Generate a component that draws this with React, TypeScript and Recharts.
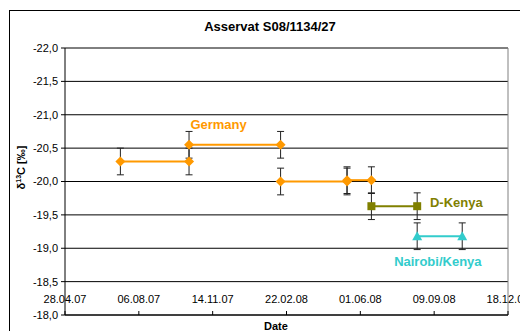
import React from 'react';
import { ScatterChart, Scatter, XAxis, YAxis, CartesianGrid, ErrorBar, ReferenceLine, ReferenceDot } from 'recharts';

// dates are dd.mm.yy, values are δ13C in ‰, errors are ± in ‰
const germanyDates = ['12.07.07', '13.10.07', '13.10.07', '14.02.08', '14.02.08', '14.05.08', '14.05.08', '16.06.08'];
const germanyValues = [-20.3, -20.3, -20.55, -20.55, -20.0, -20.0, -20.02, -20.02];
const germanyErrors = [0.2, 0.2, 0.2, 0.2, 0.2, 0.2, 0.2, 0.2];
const germanySegments = [1, 1, 2, 2, 3, 3, 4, 4];

const dKenyaDates = ['16.06.08', '17.08.08'];
const dKenyaValues = [-19.63, -19.63];
const dKenyaErrors = [0.2, 0.2];

const nairobiDates = ['17.08.08', '17.10.08'];
const nairobiValues = [-19.18, -19.18];
const nairobiErrors = [0.2, 0.2];

const xTickLabels = ['28.04.07', '06.08.07', '14.11.07', '22.02.08', '01.06.08', '09.09.08', '18.12.08'];
const yTicks = [-22, -21.5, -21, -20.5, -20, -19.5, -19, -18.5, -18];

const seriesLabels = [
  { text: 'Germany', date: '22.11.07', value: -20.85, color: '#FF9900' },
  { text: 'D-Kenya', date: '09.10.08', value: -19.68, color: '#808000' },
  { text: 'Nairobi/Kenya', date: '14.09.08', value: -18.81, color: '#33CCCC' },
];

const toDay = (s: string) => {
  const [d, m, y] = s.split('.').map(Number);
  return Date.UTC(2000 + y, m - 1, d) / 86400000;
};
const origin = toDay(xTickLabels[0]);
const dayOf = (s: string) => toDay(s) - origin;
const xTicks = xTickLabels.map(dayOf);

const build = (dates: string[], values: number[], errors: number[]) =>
  dates.map((d, i) => ({ x: dayOf(d), y: values[i], err: errors[i] }));

const germanyAll = build(germanyDates, germanyValues, germanyErrors);
const germanyParts = [1, 2, 3, 4].map(s => germanyAll.filter((_, i) => germanySegments[i] === s));
const dKenya = build(dKenyaDates, dKenyaValues, dKenyaErrors);
const nairobi = build(nairobiDates, nairobiValues, nairobiErrors);

const ORANGE = '#FF9900';
const OLIVE = '#808000';
const CYAN = '#33CCCC';

const Diamond = (p: any) => (
  <polygon points={`${p.cx},${p.cy - 5} ${p.cx + 5},${p.cy} ${p.cx},${p.cy + 5} ${p.cx - 5},${p.cy}`} fill={ORANGE} />
);
const Square = (p: any) => <rect x={p.cx - 4} y={p.cy - 4} width={8} height={8} fill={OLIVE} />;
const Triangle = (p: any) => (
  <polygon points={`${p.cx},${p.cy - 5} ${p.cx + 5},${p.cy + 4} ${p.cx - 5},${p.cy + 4}`} fill={CYAN} />
);

const YLabel = (props: any) => {
  const vb = props.viewBox || { x: 0, y: 48, width: 65, height: 267 };
  const x = 25;
  const y = vb.y + vb.height / 2 - 14;
  return (
    <text x={x} y={y} transform={`rotate(-90 ${x} ${y})`} textAnchor="middle" fontSize={11} fontWeight="bold" fill="#000">
      δ<tspan dy={-4} fontSize={7}>13</tspan><tspan dy={4}>C [‰]</tspan>
    </text>
  );
};

const fmt = (v: number) => v.toFixed(1).replace('.', ',');

export default function App() {
  return (
    <div style={{ position: 'absolute', left: 0, top: 0, width: 520, height: 331, overflow: 'hidden', background: '#fff', fontFamily: '"Liberation Sans", Arial, sans-serif' }}>
      <div style={{ position: 'absolute', left: 9, top: 10, width: 560, height: 360, border: '1px solid #000' }} />
      <div style={{ position: 'absolute', left: 0, top: 19, width: 540, textAlign: 'center', fontSize: 13, fontWeight: 'bold' }}>
        Asservat S08/1134/27
      </div>
      <div style={{ position: 'absolute', left: 264, top: 320, fontSize: 11, fontWeight: 'bold' }}>Date</div>
      <div style={{ position: 'absolute', left: 0, top: 0 }}>
        <ScatterChart width={520} height={331} margin={{ top: 48, right: 12, left: 0, bottom: 16 }}>
          <CartesianGrid horizontal vertical={false} stroke="#000" />
          <XAxis
            type="number"
            dataKey="x"
            domain={[0, xTicks[xTicks.length - 1]]}
            ticks={xTicks}
            tickFormatter={(v: number) => xTickLabels[xTicks.indexOf(v)] ?? ''}
            mirror
            height={16}
            tickSize={4}
            tickMargin={8}
            stroke="#000"
            tick={{ fill: '#000', fontSize: 11 }}
            interval={0}
          />
          <YAxis
            type="number"
            dataKey="y"
            reversed
            domain={[-22, -18]}
            ticks={yTicks}
            tickFormatter={fmt}
            width={65}
            tickSize={4}
            tickMargin={3}
            stroke="#000"
            tick={{ fill: '#000', fontSize: 11 }}
            interval={0}
            label={{ content: (p: any) => <YLabel {...p} /> }}
          />
          <ReferenceLine y={-22} stroke="#808080" />
          <ReferenceLine x={xTicks[xTicks.length - 1]} stroke="#808080" />
          {germanyParts.map((part, i) => (
            <Scatter key={`g${i}`} data={part} line={{ stroke: ORANGE, strokeWidth: 2 }} shape={Diamond} isAnimationActive={false}>
              <ErrorBar dataKey="err" direction="y" width={3.5} stroke="#222" strokeWidth={1} />
            </Scatter>
          ))}
          <Scatter data={dKenya} line={{ stroke: OLIVE, strokeWidth: 2 }} shape={Square} isAnimationActive={false}>
            <ErrorBar dataKey="err" direction="y" width={3.5} stroke="#222" strokeWidth={1} />
          </Scatter>
          <Scatter data={nairobi} line={{ stroke: CYAN, strokeWidth: 2 }} shape={Triangle} isAnimationActive={false}>
            <ErrorBar dataKey="err" direction="y" width={3.5} stroke="#222" strokeWidth={1} />
          </Scatter>
          {seriesLabels.map(l => (
            <ReferenceDot
              key={l.text}
              x={dayOf(l.date)}
              y={l.value}
              r={0}
              fill="none"
              stroke="none"
              label={{ value: l.text, position: 'center', fill: l.color, fontSize: 13, fontWeight: 'bold' }}
            />
          ))}
        </ScatterChart>
      </div>
    </div>
  );
}
